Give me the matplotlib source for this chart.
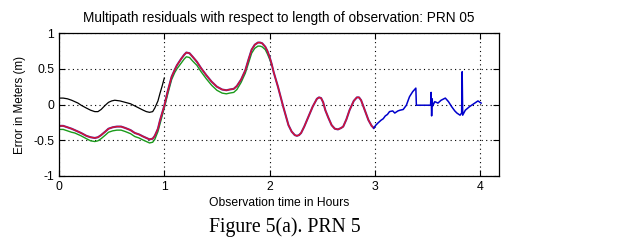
import matplotlib
matplotlib.use("Agg")
import matplotlib.pyplot as plt

# Black series (0-1 h)
t_black = [0.0, 0.04, 0.08, 0.12, 0.15, 0.18, 0.21, 0.26, 0.30, 0.34, 0.37, 0.40, 0.44, 0.47, 0.50, 0.53, 0.58,
           0.63, 0.68, 0.72, 0.76, 0.80, 0.83, 0.86, 0.89, 0.91, 0.94, 0.96, 0.98, 1.0]
y_black = [0.09, 0.09, 0.08, 0.06, 0.04, 0.02, -0.01, -0.05, -0.08, -0.10, -0.10, -0.07, -0.01, 0.03, 0.05, 0.06, 0.05,
           0.03, 0.01, -0.02, -0.05, -0.08, -0.10, -0.11, -0.10, -0.05, 0.05, 0.16, 0.26, 0.37]

# Red (with purple underlay) series (0-3 h)
t_red = [0.0, 0.04, 0.08, 0.12, 0.15, 0.18, 0.21, 0.26, 0.30, 0.34, 0.37, 0.40, 0.44, 0.47, 0.51, 0.55, 0.59,
         0.63, 0.68, 0.72, 0.76, 0.80, 0.83, 0.86, 0.89, 0.91, 0.94, 0.96, 0.98, 1.0,
         1.03, 1.07, 1.10, 1.12, 1.16, 1.19, 1.21, 1.24, 1.27, 1.31, 1.35, 1.40, 1.45, 1.50, 1.55, 1.59, 1.62,
         1.66, 1.69, 1.73, 1.77, 1.80, 1.83, 1.86, 1.89, 1.91, 1.93, 1.96,
         1.98, 2.0, 2.02, 2.04, 2.08, 2.13, 2.18, 2.21, 2.24, 2.26, 2.28, 2.30, 2.33, 2.37, 2.41, 2.45, 2.47,
         2.49, 2.51, 2.53, 2.56, 2.59, 2.62, 2.65, 2.68, 2.70, 2.73, 2.76, 2.80, 2.83, 2.85,
         2.87, 2.90, 2.94, 2.97, 2.99]
y_red = [-0.30, -0.30, -0.32, -0.34, -0.36, -0.38, -0.40, -0.44, -0.46, -0.47, -0.46, -0.43, -0.38, -0.34, -0.32, -0.31, -0.31,
         -0.33, -0.36, -0.40, -0.42, -0.45, -0.47, -0.49, -0.48, -0.44, -0.34, -0.22, -0.12, -0.02,
         0.17, 0.39, 0.49, 0.55, 0.64, 0.70, 0.73, 0.72, 0.67, 0.60, 0.51, 0.41, 0.32, 0.25, 0.21, 0.20, 0.21,
         0.22, 0.26, 0.35, 0.48, 0.63, 0.77, 0.84, 0.87, 0.87, 0.86, 0.81,
         0.75, 0.67, 0.57, 0.45, 0.25, -0.03, -0.29, -0.38, -0.43, -0.44, -0.43, -0.40, -0.31, -0.17, -0.03, 0.08, 0.10,
         0.09, 0.03, -0.08, -0.19, -0.29, -0.34, -0.35, -0.33, -0.31, -0.21, -0.08, 0.05, 0.10, 0.10,
         0.06, -0.06, -0.22, -0.30, -0.33]

# Green series (0-2 h)
t_green = [0.0, 0.04, 0.08, 0.12, 0.15, 0.18, 0.21, 0.26, 0.30, 0.34, 0.37, 0.40, 0.44, 0.47, 0.51, 0.55, 0.59,
           0.63, 0.68, 0.72, 0.76, 0.80, 0.83, 0.86, 0.89, 0.91, 0.94, 0.96, 0.98, 1.0,
           1.03, 1.07, 1.10, 1.12, 1.16, 1.19, 1.21, 1.24, 1.27, 1.31, 1.35, 1.40, 1.45, 1.50, 1.55, 1.59, 1.62,
           1.66, 1.69, 1.73, 1.77, 1.80, 1.83, 1.86, 1.89, 1.91, 1.93, 1.96, 1.98, 2.0, 2.02]
y_green = [-0.35, -0.35, -0.37, -0.39, -0.40, -0.42, -0.44, -0.48, -0.51, -0.52, -0.51, -0.48, -0.43, -0.39, -0.37, -0.36, -0.36,
           -0.38, -0.41, -0.45, -0.47, -0.50, -0.52, -0.54, -0.53, -0.49, -0.38, -0.27, -0.16, -0.05,
           0.13, 0.35, 0.45, 0.50, 0.58, 0.64, 0.67, 0.66, 0.61, 0.55, 0.46, 0.36, 0.27, 0.20, 0.16, 0.15, 0.16,
           0.17, 0.21, 0.31, 0.44, 0.58, 0.72, 0.79, 0.82, 0.82, 0.81, 0.77, 0.71, 0.64, 0.56]

# Blue series (3-4 h)
t_blue = [2.99, 3.01, 3.03, 3.06, 3.08, 3.10, 3.12, 3.14, 3.17, 3.19, 3.22, 3.24, 3.27, 3.30, 3.33, 3.36, 3.39, 3.395,
          3.45, 3.53, 3.535, 3.54, 3.545, 3.55, 3.57, 3.60, 3.63, 3.67, 3.70, 3.73, 3.76, 3.78, 3.81, 3.825,
          3.83, 3.835, 3.86, 3.90, 3.95, 3.98, 4.01]
y_blue = [-0.33, -0.29, -0.26, -0.22, -0.20, -0.16, -0.14, -0.10, -0.09, -0.12, -0.09, -0.08, -0.07, -0.01, 0.11, 0.18, 0.23, -0.01,
          -0.01, -0.01, 0.17, -0.16, 0.08, -0.02, 0.04, 0.02, 0.06, 0.09, 0.04, -0.03, -0.09, -0.12, -0.15, -0.12,
          0.46, -0.15, -0.08, -0.03, 0.02, 0.05, 0.02]

x_ticks = [0, 1, 2, 3, 4]
y_ticks = [-1, -0.5, 0, 0.5, 1]
y_ticklabels = ["-1", "-0.5", "0", "0.5", "1"]

plt.rcParams['font.family'] = ['Liberation Sans', 'DejaVu Sans']

fig = plt.figure(figsize=(6.36, 2.46), dpi=100)
ax = fig.add_axes([59/636, 1-175.7/246, 440/636, 142.4/246])

ax.plot(t_green, y_green, color='#1a9a1a', lw=1.0)
ax.plot(t_red, y_red, color='#5a2aa0', lw=1.5)
ax.plot(t_red, y_red, color='#e0102a', lw=0.9)
ax.plot(t_black, y_black, color='black', lw=0.9)
ax.plot(t_blue, y_blue, color='#0000cc', lw=1.1)

ax.set_xlim(0, 4.18)
ax.set_ylim(-1, 1)
ax.set_xticks(x_ticks)
ax.set_yticks(y_ticks)
ax.set_yticklabels(y_ticklabels)
ax.grid(True, color='black', linestyle=(0, (1, 3)), lw=0.8)
ax.tick_params(direction='in', top=True, right=True, labelsize=8.8, length=4, width=0.8)
for s in ax.spines.values():
    s.set_linewidth(0.9)

ax.set_title("Multipath residuals with respect to length of observation: PRN 05", fontsize=9.8, pad=8)
ax.set_xlabel("Observation time in Hours", fontsize=8.7, labelpad=3)
ax.set_ylabel("Error in Meters (m)", fontsize=8.4, labelpad=5)

fig.text(285/636, 1-226.7/246, "Figure 5(a). PRN 5", family=['Liberation Serif'], fontsize=14.2,
         ha='center', va='center')

fig.savefig("out.png", dpi=100)
